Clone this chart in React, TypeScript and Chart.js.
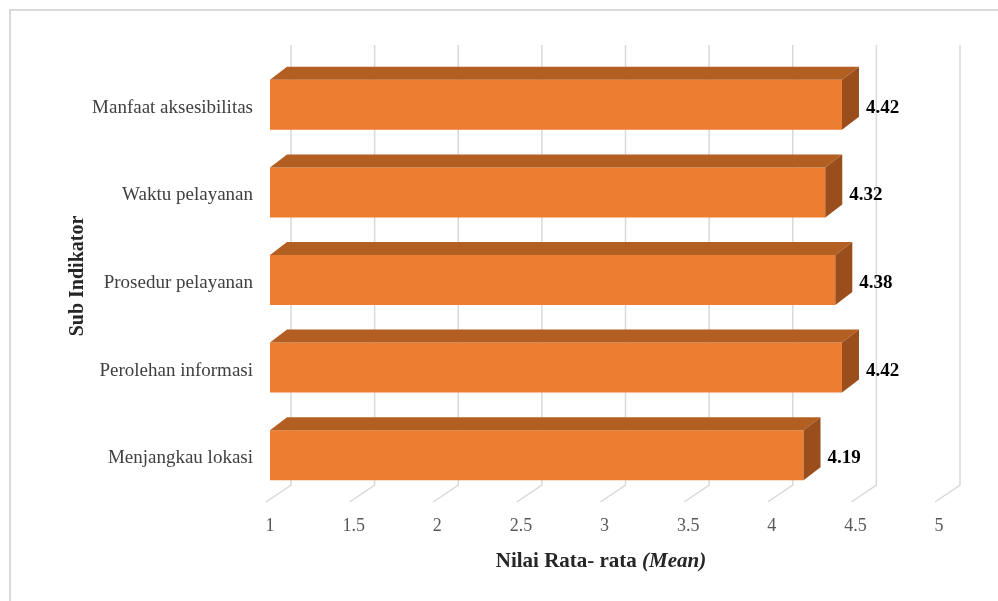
import React, { useEffect, useRef } from "react";
import { Chart, registerables } from "chart.js";

Chart.register(...registerables);

// Sub-indicator names, listed top to bottom
const categories = [
  "Manfaat aksesibilitas",
  "Waktu pelayanan",
  "Prosedur pelayanan",
  "Perolehan informasi",
  "Menjangkau lokasi",
];

// Mean score for each sub-indicator
const meanValues = [4.42, 4.32, 4.38, 4.42, 4.19];

// Value axis range and step
const axisMin = 1;
const axisMax = 5;
const axisStep = 0.5;

const xTitleMain = "Nilai Rata- rata ";
const xTitleItalic = "(Mean)";
const yTitle = "Sub Indikator";

const SERIF = "'Liberation Serif', 'Times New Roman', serif";
const FRONT = "#ED7D31";
const TOP = "#B45F22";
const SIDE = "#9A4E1C";
const GRID = "#D9D9D9";
const DEPTH_X = 17;
const DEPTH_Y = 13;

// Page frame and white background
const framePlugin = {
  id: "frame",
  beforeDraw(chart: any) {
    const ctx = chart.ctx;
    ctx.save();
    ctx.fillStyle = "#ffffff";
    ctx.fillRect(0, 0, chart.width, chart.height);
    ctx.strokeStyle = GRID;
    ctx.lineWidth = 2;
    ctx.strokeRect(10, 10, chart.width + 20, chart.height + 20);
    ctx.restore();
  },
};

// Back-wall and floor gridlines in perspective
const wallGridPlugin = {
  id: "wallGrid",
  beforeDatasetsDraw(chart: any) {
    const ctx = chart.ctx;
    const xs = chart.scales.x;
    const area = chart.chartArea;
    ctx.save();
    ctx.strokeStyle = GRID;
    ctx.lineWidth = 1.5;
    xs.ticks.forEach((t: any) => {
      const px = xs.getPixelForValue(t.value);
      const back = px + 21;
      ctx.beginPath();
      ctx.moveTo(back, area.top - 16);
      ctx.lineTo(back, area.bottom - 14);
      ctx.lineTo(px - 4, area.bottom + 3);
      ctx.stroke();
    });
    ctx.restore();
  },
};

// Top and side faces of each bar, plus value labels
const bar3dPlugin = {
  id: "bar3d",
  afterDatasetsDraw(chart: any) {
    const ctx = chart.ctx;
    const meta = chart.getDatasetMeta(0);
    ctx.save();
    meta.data.forEach((el: any, i: number) => {
      const { x, y, base, height } = el.getProps(["x", "y", "base", "height"], true);
      const top = y - height / 2;
      const bottom = y + height / 2;
      ctx.fillStyle = TOP;
      ctx.beginPath();
      ctx.moveTo(base, top);
      ctx.lineTo(base + DEPTH_X, top - DEPTH_Y);
      ctx.lineTo(x + DEPTH_X, top - DEPTH_Y);
      ctx.lineTo(x, top);
      ctx.closePath();
      ctx.fill();
      ctx.fillStyle = SIDE;
      ctx.beginPath();
      ctx.moveTo(x, top);
      ctx.lineTo(x + DEPTH_X, top - DEPTH_Y);
      ctx.lineTo(x + DEPTH_X, bottom - DEPTH_Y);
      ctx.lineTo(x, bottom);
      ctx.closePath();
      ctx.fill();

      ctx.fillStyle = "#000000";
      ctx.font = `bold 19px ${SERIF}`;
      ctx.textAlign = "left";
      ctx.textBaseline = "middle";
      ctx.fillText(meanValues[i].toFixed(2), x + DEPTH_X + 7, y + 3);
    });
    ctx.restore();
  },
};

// Axis titles (the x title mixes bold and bold italic)
const titlesPlugin = {
  id: "titles",
  afterDraw(chart: any) {
    const ctx = chart.ctx;
    ctx.save();
    ctx.fillStyle = "#262626";
    ctx.textBaseline = "alphabetic";
    ctx.textAlign = "left";
    ctx.font = `bold 21px ${SERIF}`;
    const w1 = ctx.measureText(xTitleMain).width;
    ctx.font = `italic bold 21px ${SERIF}`;
    const w2 = ctx.measureText(xTitleItalic).width;
    const startX = 601 - (w1 + w2) / 2;
    ctx.font = `bold 21px ${SERIF}`;
    ctx.fillText(xTitleMain, startX, 567);
    ctx.font = `italic bold 21px ${SERIF}`;
    ctx.fillText(xTitleItalic, startX + w1, 567);

    ctx.translate(83, 276);
    ctx.rotate(-Math.PI / 2);
    ctx.font = `bold 20px ${SERIF}`;
    ctx.textAlign = "center";
    ctx.fillText(yTitle, 0, 0);
    ctx.restore();
  },
};

export default function App() {
  const canvasRef = useRef<HTMLCanvasElement | null>(null);

  useEffect(() => {
    if (!canvasRef.current) return;
    const chart = new Chart(canvasRef.current, {
      type: "bar",
      data: {
        labels: categories,
        datasets: [
          {
            data: meanValues,
            base: axisMin,
            backgroundColor: FRONT,
            borderWidth: 0,
            barPercentage: 0.571,
            categoryPercentage: 1,
          },
        ],
      },
      options: {
        indexAxis: "y",
        animation: false,
        responsive: false,
        devicePixelRatio: 1,
        layout: { padding: { top: 61, right: 59, left: 0, bottom: 0 } },
        plugins: {
          legend: { display: false },
          tooltip: { enabled: false },
        },
        scales: {
          x: {
            min: axisMin,
            max: axisMax,
            border: { display: false },
            grid: { display: false, drawTicks: false },
            ticks: {
              stepSize: axisStep,
              padding: 16,
              color: "#595959",
              font: { family: SERIF, size: 18 },
              maxRotation: 0,
              autoSkip: false,
              callback: (value: any) => String(Number(value)),
            },
            afterFit(scale: any) {
              scale.height = 102;
            },
          },
          y: {
            border: { display: false },
            grid: { display: false, drawTicks: false },
            ticks: {
              padding: 17,
              labelOffset: 3,
              color: "#404040",
              font: { family: SERIF, size: 19 },
            },
            afterFit(scale: any) {
              scale.width = 270;
            },
          },
        },
      },
      plugins: [framePlugin, wallGridPlugin, bar3dPlugin, titlesPlugin],
    });
    return () => chart.destroy();
  }, []);

  return (
    <div style={{ position: "absolute", left: 0, top: 0, width: 998, height: 601 }}>
      <canvas ref={canvasRef} width={998} height={601} style={{ display: "block" }} />
    </div>
  );
}
